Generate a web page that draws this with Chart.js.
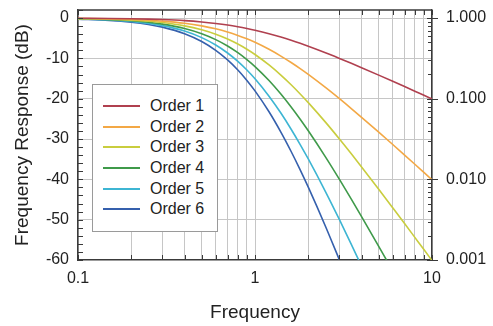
<!DOCTYPE html>
<html>
<head>
<meta charset="utf-8">
<script src="https://cdn.jsdelivr.net/npm/chart.js@4.4.0/dist/chart.umd.min.js"></script>
<style>
  html, body { margin: 0; padding: 0; background: #fff; }
  #wrap { position: relative; width: 493px; height: 326px; }
  #legend {
    position: absolute; left: 92px; top: 84px; width: 126px; height: 148px;
    box-sizing: border-box; border: 1px solid #9a9a9a; background: #fff;
    padding-top: 11px; font-family: "Liberation Sans", Arial, sans-serif; font-size: 16px; color: #222;
  }
  .row { height: 20.6px; display: flex; align-items: center; }
  .swatch { width: 37px; height: 2px; margin-left: 10px; }
  .lab { margin-left: 10px; }
</style>
</head>
<body>
<div id="wrap">
  <canvas id="c" width="493" height="326"></canvas>
  <div id="legend"></div>
</div>
<script>
// ---- data ----
const freq   = [0.1, 0.15, 0.2, 0.25, 0.3, 0.4, 0.5, 0.6, 0.7, 0.8, 0.9, 1.0, 1.2, 1.4, 1.6, 1.8, 2.0, 2.5, 3, 3.5, 4, 5, 6, 7, 8, 9, 10];
const order1 = [-0.04, -0.10, -0.17, -0.26, -0.37, -0.64, -0.97, -1.34, -1.73, -2.15, -2.58, -3.01, -3.87, -4.71, -5.51, -6.27, -6.99, -8.60, -10.00, -11.22, -12.30, -14.15, -15.68, -16.99, -18.13, -19.14, -20.04];
const order2 = [-0.09, -0.19, -0.34, -0.53, -0.75, -1.29, -1.94, -2.67, -3.46, -4.30, -5.15, -6.02, -7.75, -9.43, -11.03, -12.55, -13.98, -17.21, -20.00, -22.44, -24.61, -28.30, -31.36, -33.98, -36.26, -38.28, -40.09];
const order3 = [-0.13, -0.29, -0.51, -0.79, -1.12, -1.93, -2.91, -4.01, -5.20, -6.45, -7.73, -9.03, -11.62, -14.14, -16.54, -18.82, -20.97, -25.81, -30.00, -33.67, -36.91, -42.45, -47.05, -50.97, -54.39, -57.41, -60.13];
const order4 = [-0.17, -0.39, -0.68, -1.05, -1.50, -2.58, -3.88, -5.34, -6.93, -8.59, -10.31, -12.04, -15.50, -18.85, -22.06, -25.09, -27.96, -34.41, -40.00, -44.89, -49.22, -56.60, -62.73, null, null, null, null];
const order5 = [-0.22, -0.48, -0.85, -1.32, -1.87, -3.22, -4.85, -6.68, -8.66, -10.74, -12.88, -15.05, -19.37, -23.56, -27.57, -31.37, -34.95, -43.02, -50.00, -56.11, -61.52, null, null, null, null, null, null];
const order6 = [-0.26, -0.58, -1.02, -1.58, -2.25, -3.87, -5.81, -8.01, -10.39, -12.89, -15.46, -18.06, -23.24, -28.28, -33.09, -37.64, -41.94, -51.62, -60.00, null, null, null, null, null, null, null, null];
const seriesNames = ['Order 1', 'Order 2', 'Order 3', 'Order 4', 'Order 5', 'Order 6'];
const seriesValues = [order1, order2, order3, order4, order5, order6];

// tick values / labels
const xTickValues = [0.1, 0.2, 0.3, 0.4, 0.5, 0.6, 0.7, 0.8, 0.9, 1, 2, 3, 4, 5, 6, 7, 8, 9, 10];
const xTickLabels = [0.1, 1, 10];
const yMin = -60, yMax = 2, yStep = 2;
const yLabelValues = [0, -10, -20, -30, -40, -50, -60];
const y2TickValues = [0.001, 0.002, 0.003, 0.004, 0.005, 0.006, 0.007, 0.008, 0.009,
                      0.01, 0.02, 0.03, 0.04, 0.05, 0.06, 0.07, 0.08, 0.09,
                      0.1, 0.2, 0.3, 0.4, 0.5, 0.6, 0.7, 0.8, 0.9, 1];
const y2LabelValues = [0.001, 0.01, 0.1, 1];

// ---- styles ----
const seriesColors = ['#b0404f', '#f3a845', '#c9cd3e', '#3f9a4a', '#3db5d3', '#3560ad'];
const FONT = '"Liberation Sans", Arial, sans-serif';
const frameColor = '#3a3a3a';
const gridColor = '#c6c6c6';

const datasets = seriesValues.map((vals, i) => ({
  label: seriesNames[i],
  data: freq.map((f, j) => ({ x: f, y: vals[j] })).filter(p => p.y !== null),
  borderColor: seriesColors[i],
  backgroundColor: seriesColors[i],
  borderWidth: 1.6,
  pointRadius: 0,
  fill: false,
  cubicInterpolationMode: 'monotone',
  yAxisID: 'y'
}));

const close = (a, b) => Math.abs(a - b) < 1e-9 * Math.max(1, Math.abs(b));
const noVPad = s => { s.paddingTop = 0; s.paddingBottom = 0; };

const tickPlugin = {
  id: 'frameTicks',
  afterDraw(chart) {
    const ctx = chart.ctx;
    const a = chart.chartArea;
    const xs = chart.scales.x, ys = chart.scales.y, y2 = chart.scales.y2;
    ctx.save();
    ctx.strokeStyle = frameColor;
    ctx.lineWidth = 1.5;
    ctx.beginPath();
    ctx.moveTo(a.left, a.top); ctx.lineTo(a.right, a.top);
    ctx.stroke();
    ctx.lineWidth = 1;
    ctx.beginPath();
    xs.ticks.forEach(t => {
      const px = Math.round(xs.getPixelForValue(t.value)) + 0.5;
      ctx.moveTo(px, a.bottom); ctx.lineTo(px, a.bottom - 5);
      ctx.moveTo(px, a.top); ctx.lineTo(px, a.top + 5);
    });
    ys.ticks.forEach(t => {
      const py = Math.round(ys.getPixelForValue(t.value)) + 0.5;
      ctx.moveTo(a.left, py); ctx.lineTo(a.left + 5, py);
    });
    y2.ticks.forEach(t => {
      const py = Math.round(y2.getPixelForValue(t.value)) + 0.5;
      const major = y2LabelValues.some(v => close(v, t.value));
      if (major) { ctx.moveTo(a.right - 5, py); ctx.lineTo(a.right + 6, py); }
      else { ctx.moveTo(a.right - 4, py); ctx.lineTo(a.right, py); }
    });
    ctx.stroke();
    ctx.restore();
  }
};

new Chart(document.getElementById('c'), {
  type: 'line',
  data: { datasets },
  options: {
    responsive: false,
    animation: false,
    layout: { padding: { top: 10, left: 0, right: 0, bottom: 0 } },
    plugins: { legend: { display: false }, tooltip: { enabled: false } },
    scales: {
      x: {
        type: 'logarithmic', min: 0.1, max: 10, position: 'bottom',
        afterBuildTicks: s => { s.ticks = xTickValues.map(v => ({ value: v })); },
        afterFit: s => { s.height = 66; s.paddingLeft = 0; s.paddingRight = 0; },
        grid: { color: gridColor, lineWidth: 1, drawTicks: false },
        border: { display: true, color: frameColor, width: 1.5 },
        ticks: {
          autoSkip: false, maxRotation: 0, padding: 9,
          font: { family: FONT, size: 16 }, color: '#222',
          callback: v => xTickLabels.some(l => close(l, v)) ? String(v) : ''
        },
        title: { display: true, text: 'Frequency', font: { family: FONT, size: 19 }, color: '#222', padding: { top: 0, bottom: 2 } }
      },
      y: {
        type: 'linear', min: yMin, max: yMax, position: 'left',
        ticks: {
          stepSize: yStep, autoSkip: false, padding: 9,
          font: { family: FONT, size: 16 }, color: '#222',
          callback: v => yLabelValues.includes(v) ? String(v) : ''
        },
        afterFit: s => { s.width = 78; noVPad(s); },
        grid: {
          drawTicks: false, lineWidth: 1,
          color: c => (c.tick && c.tick.value % 10 === 0 && c.tick.value > yMin && c.tick.value < yMax) ? gridColor : 'rgba(0,0,0,0)'
        },
        border: { display: true, color: frameColor, width: 1.5 },
        title: { display: true, text: 'Frequency Response (dB)', font: { family: FONT, size: 19 }, color: '#222', padding: { top: 11, bottom: 0 } }
      },
      y2: {
        type: 'logarithmic', position: 'right', min: 0.001, max: Math.pow(10, yMax / 20),
        afterBuildTicks: s => { s.ticks = y2TickValues.map(v => ({ value: v })); },
        afterFit: s => { s.width = 61; noVPad(s); },
        grid: { drawOnChartArea: false, drawTicks: false },
        border: { display: true, color: frameColor, width: 1.5 },
        ticks: {
          autoSkip: false, padding: 14,
          font: { family: FONT, size: 16 }, color: '#222',
          callback: v => y2LabelValues.some(l => close(l, v)) ? Number(v).toFixed(3) : ''
        }
      }
    }
  },
  plugins: [tickPlugin]
});

// HTML legend
const leg = document.getElementById('legend');
seriesNames.forEach((n, i) => {
  const row = document.createElement('div'); row.className = 'row';
  const sw = document.createElement('div'); sw.className = 'swatch'; sw.style.background = seriesColors[i];
  const lb = document.createElement('span'); lb.className = 'lab'; lb.textContent = n;
  row.appendChild(sw); row.appendChild(lb); leg.appendChild(row);
});
</script>
</body>
</html>
